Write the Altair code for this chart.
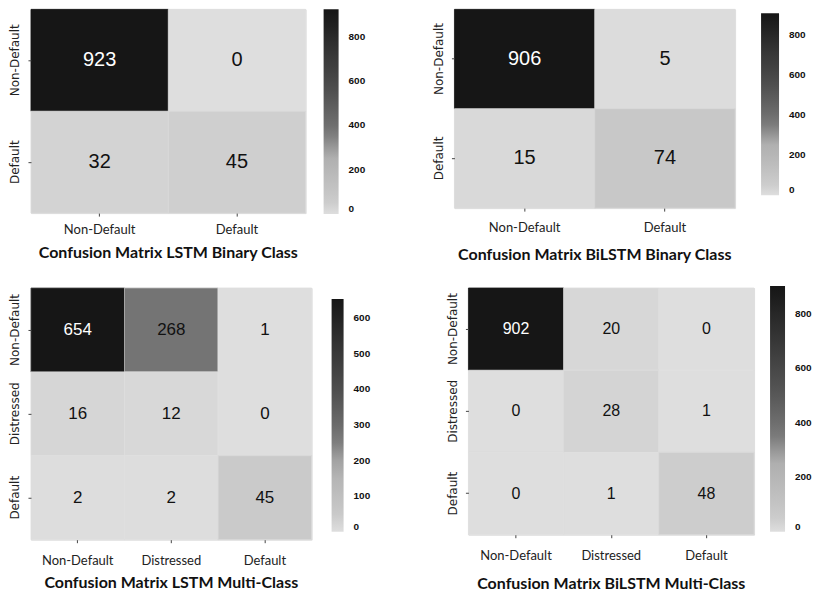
import altair as alt
import pandas as pd

binary_labels = ["Non-Default", "Default"]
multi_labels = ["Non-Default", "Distressed", "Default"]

lstm_binary = [[923, 0], [32, 45]]
bilstm_binary = [[906, 5], [15, 74]]
lstm_multi = [[654, 268, 1], [16, 12, 0], [2, 2, 45]]
bilstm_multi = [[902, 20, 0], [0, 28, 1], [0, 1, 48]]

titles = [
    "Confusion Matrix LSTM Binary Class",
    "Confusion Matrix BiLSTM Binary Class",
    "Confusion Matrix LSTM Multi-Class",
    "Confusion Matrix BiLSTM Multi-Class",
]
maxes = [923, 906, 654, 902]
ticks_800 = [0, 200, 400, 600, 800]
ticks_600 = [0, 100, 200, 300, 400, 500, 600]

stops = [0, 0.06, 0.28, 0.4, 0.6, 0.8, 1.0]
greys = ["#dedede", "#cbcbcb", "#afafaf", "#767676", "#505050", "#343434", "#161616"]


def panel(matrix, labels, title, vmax, legend_vals, w, h, font_size,
          leg_off, leg_y, leg_len, leg_thick, xpad, toff):
    rows = []
    for i, row in enumerate(matrix):
        for j, v in enumerate(row):
            rows.append({"actual": labels[i], "pred": labels[j], "value": v})
    df = pd.DataFrame(rows)
    x = alt.X("pred:N", sort=labels, title=None,
              scale=alt.Scale(paddingInner=0, paddingOuter=0),
              axis=alt.Axis(labelAngle=0, domain=False, tickSize=3, tickColor="#444",
                            labelFont="Lato", labelFontSize=13, labelColor="#222",
                            labelPadding=xpad))
    y = alt.Y("actual:N", sort=labels, title=None,
              scale=alt.Scale(paddingInner=0, paddingOuter=0),
              axis=alt.Axis(labelAngle=270, domain=False, tickSize=3, tickColor="#444",
                            labelFont="DejaVu Sans", labelFontSize=12, labelColor="#222",
                            labelPadding=6, labelAlign="center", labelBaseline="bottom"))
    cscale = alt.Scale(domain=[s * vmax for s in stops], range=greys)
    base = alt.Chart(df)
    rect = base.mark_rect(strokeWidth=0.8).encode(
        x=x, y=y,
        color=alt.Color(
            "value:Q",
            scale=cscale,
            legend=alt.Legend(
                title=None, orient="none", legendX=w + leg_off, legendY=leg_y,
                direction="vertical", gradientLength=leg_len,
                gradientThickness=leg_thick, values=legend_vals,
                labelFont="Liberation Sans", labelFontWeight="bold",
                labelFontSize=10, labelColor="#111", labelOffset=10,
                gradientStrokeWidth=0,
            ),
        ),
        stroke=alt.Stroke("value:Q", scale=cscale, legend=None),
    )
    text = base.mark_text(font="Liberation Sans", fontSize=font_size).encode(
        x=x, y=y,
        text="value:Q",
        color=alt.condition(alt.datum.value > 0.6 * vmax, alt.value("white"), alt.value("#111")),
    )
    return (rect + text).properties(
        width=w, height=h,
        title=alt.TitleParams(title, orient="bottom", anchor="middle", font="Lato",
                              fontSize=16, fontWeight="bold", color="#111", offset=toff),
    ).resolve_scale(color="independent")


p1 = panel(lstm_binary, binary_labels, titles[0], maxes[0], ticks_800, 275, 204, 20, 18, 0, 205, 15, 7, 9)
p2 = panel(bilstm_binary, binary_labels, titles[1], maxes[1], ticks_800, 281, 199, 20, 26, 4, 182, 18, 10, 13)
p3 = panel(lstm_multi, multi_labels, titles[2], maxes[2], ticks_600, 281, 252, 17, 20, 11, 233, 12, 12, 7)
p4 = panel(bilstm_multi, multi_labels, titles[3], maxes[3], ticks_800, 286, 247, 16, 16, -2, 246, 15, 12, 13)

chart = alt.vconcat(
    alt.hconcat(p1, p2, spacing=65),
    alt.hconcat(p3, p4, spacing=74),
    spacing=21,
).properties(padding=0).configure_view(stroke=None).configure(background="white")

chart.save("out.html", embed_options={"renderer": "svg", "actions": False})
